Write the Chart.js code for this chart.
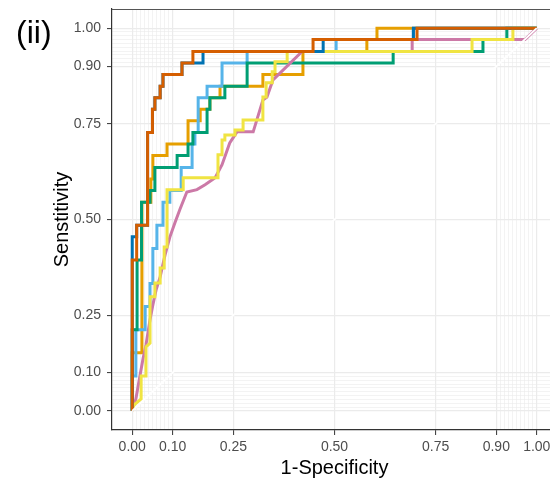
<!DOCTYPE html>
<html>
<head>
<meta charset="utf-8">
<title>ROC (ii)</title>
<script src="https://cdn.jsdelivr.net/npm/chart.js@4.4.0/dist/chart.umd.min.js"></script>
<style>
    html, body { margin: 0; padding: 0; background: #ffffff; overflow: hidden; }
    #wrap { position: relative; width: 580px; height: 483px; }
</style>
</head>
<body>
<div id="wrap"><canvas id="roc"></canvas></div>
<script>
'use strict'

/* axis breaks */
var majorTicks = [0, 0.1, 0.25, 0.5, 0.75, 0.9, 1];
var minorTicks = [0.01, 0.02, 0.03, 0.04, 0.05, 0.06, 0.07, 0.08, 0.09,
    0.91, 0.92, 0.93, 0.94, 0.95, 0.96, 0.97, 0.98, 0.99];

var panelLabel = '(ii)';
var xTitle = '1-Specificity';
var yTitle = 'Senstitivity';

/* reference diagonal */
var diagFpr = [0, 1];
var diagTpr = [0, 1];

/* ROC curves (1-specificity, sensitivity) */
var vermillionFpr = [0, 0, 0.011, 0.011, 0.038, 0.038, 0.050, 0.050, 0.056, 0.056, 0.069, 0.069, 0.076, 0.076, 0.123, 0.123, 0.150, 0.150, 0.447, 0.447, 0.704, 0.704, 1];
var vermillionTpr = [0, 0.394, 0.394, 0.485, 0.485, 0.727, 0.727, 0.788, 0.788, 0.818, 0.818, 0.848, 0.848, 0.879, 0.879, 0.909, 0.909, 0.939, 0.939, 0.970, 0.970, 1, 1];

var blueFpr = [0, 0, 0.011, 0.011, 0.038, 0.038, 0.050, 0.050, 0.056, 0.056, 0.069, 0.069, 0.076, 0.076, 0.123, 0.123, 0.175, 0.175, 0.472, 0.472, 0.695, 0.695, 1];
var blueTpr = [0, 0.455, 0.455, 0.485, 0.485, 0.727, 0.727, 0.788, 0.788, 0.818, 0.818, 0.848, 0.848, 0.879, 0.879, 0.909, 0.909, 0.939, 0.939, 0.970, 0.970, 1, 1];

var yellowFpr = [0, 0.004, 0.022, 0.022, 0.034, 0.034, 0.044, 0.044, 0.056, 0.056, 0.069, 0.069, 0.079, 0.079, 0.086, 0.086, 0.126, 0.126, 0.212, 0.212, 0.222, 0.222, 0.229, 0.229, 0.254, 0.254, 0.274, 0.274, 0.323, 0.323, 0.331, 0.331, 0.346, 0.346, 0.353, 0.353, 0.383, 0.383, 0.840, 0.840, 0.941, 0.941, 1];
var yellowTpr = [0, 0.015, 0.031, 0.091, 0.091, 0.167, 0.177, 0.298, 0.298, 0.334, 0.334, 0.373, 0.373, 0.428, 0.428, 0.578, 0.578, 0.609, 0.609, 0.669, 0.669, 0.708, 0.708, 0.721, 0.721, 0.734, 0.734, 0.760, 0.760, 0.820, 0.820, 0.857, 0.857, 0.886, 0.886, 0.912, 0.912, 0.939, 0.939, 0.970, 0.970, 1, 1];

var pinkFpr = [0, 0.009, 0.019, 0.027, 0.034, 0.044, 0.051, 0.059, 0.069, 0.081, 0.093, 0.106, 0.118, 0.135, 0.160, 0.180, 0.205, 0.222, 0.241, 0.259, 0.299, 0.323, 0.333, 0.348, 0.420, 0.692, 0.692, 0.971, 1];
var pinkTpr = [0, 0.031, 0.091, 0.138, 0.172, 0.238, 0.277, 0.316, 0.350, 0.407, 0.454, 0.493, 0.527, 0.572, 0.578, 0.591, 0.609, 0.643, 0.700, 0.729, 0.729, 0.812, 0.820, 0.865, 0.939, 0.939, 0.970, 0.970, 1];

var greenFpr = [0, 0, 0.012, 0.012, 0.023, 0.023, 0.044, 0.044, 0.056, 0.056, 0.111, 0.111, 0.138, 0.138, 0.150, 0.150, 0.185, 0.185, 0.192, 0.192, 0.229, 0.229, 0.284, 0.284, 0.645, 0.645, 0.867, 0.867, 0.926, 0.926, 1];
var greenTpr = [0, 0.212, 0.212, 0.394, 0.394, 0.545, 0.545, 0.576, 0.576, 0.636, 0.636, 0.667, 0.667, 0.697, 0.697, 0.727, 0.727, 0.788, 0.788, 0.818, 0.818, 0.848, 0.848, 0.909, 0.909, 0.939, 0.939, 0.970, 0.970, 1, 1];

var skyFpr = [0, 0, 0.009, 0.009, 0.032, 0.032, 0.044, 0.044, 0.051, 0.051, 0.061, 0.061, 0.076, 0.076, 0.093, 0.093, 0.121, 0.121, 0.148, 0.148, 0.155, 0.155, 0.163, 0.163, 0.185, 0.185, 0.222, 0.222, 0.284, 0.284, 0.504, 0.504, 0.695, 0.695, 1];
var skyTpr = [0, 0.091, 0.091, 0.212, 0.212, 0.273, 0.273, 0.333, 0.333, 0.424, 0.424, 0.485, 0.485, 0.545, 0.545, 0.576, 0.576, 0.636, 0.636, 0.697, 0.697, 0.727, 0.727, 0.818, 0.818, 0.848, 0.848, 0.909, 0.909, 0.939, 0.939, 0.970, 0.970, 1, 1];

var orangeFpr = [0, 0, 0.024, 0.024, 0.046, 0.046, 0.051, 0.051, 0.086, 0.086, 0.138, 0.138, 0.168, 0.168, 0.192, 0.192, 0.217, 0.217, 0.323, 0.323, 0.422, 0.422, 0.580, 0.580, 0.605, 0.605, 1];
var orangeTpr = [0, 0.152, 0.152, 0.545, 0.545, 0.606, 0.606, 0.667, 0.667, 0.697, 0.697, 0.758, 0.758, 0.788, 0.788, 0.818, 0.818, 0.848, 0.848, 0.879, 0.879, 0.939, 0.939, 0.970, 0.970, 1, 1];

var fontFamily = '"Liberation Sans", Arial, Helvetica, sans-serif';

function isMajor(v) {
    return majorTicks.indexOf(v) >= 0;
}

function curve(fpr, tpr, colour, width) {
    return {
        data: fpr.map(function (x, i) { return { x: x, y: tpr[i] }; }),
        borderColor: colour,
        borderWidth: width,
        pointRadius: 0,
        tension: 0,
        fill: false
    };
}

function setBreaks(scale) {
    scale.ticks = majorTicks.concat(minorTicks)
        .sort(function (a, b) { return a - b; })
        .map(function (v) { return { value: v }; });
}

function axis(titleText, titlePadding, tickPadding, fitFn) {
    return {
        type: 'linear',
        min: -0.05,
        max: 1.05,
        afterBuildTicks: setBreaks,
        afterFit: function (s) {
            fitFn(s);
            s.paddingTop = 0;
            s.paddingBottom = 0;
            s.paddingLeft = 0;
            s.paddingRight = 0;
        },
        border: { display: true, color: '#333333', width: 1.2 },
        grid: {
            color: '#EBEBEB',
            lineWidth: function (c) { return isMajor(c.tick.value) ? 1.2 : 0.6; },
            tickColor: function (c) { return isMajor(c.tick.value) ? '#333333' : 'rgba(0,0,0,0)'; },
            tickWidth: 1,
            tickLength: 5
        },
        ticks: {
            autoSkip: false,
            maxRotation: 0,
            padding: tickPadding,
            color: '#4D4D4D',
            font: { family: fontFamily, size: 14 },
            callback: function (value) { return isMajor(value) ? value.toFixed(2) : ''; }
        },
        title: {
            display: true,
            text: titleText,
            color: '#000000',
            font: { family: fontFamily, size: 20 },
            padding: titlePadding
        }
    };
}

/* top edge of the panel and the panel tag */
var panelExtras = {
    id: 'panelExtras',
    afterDraw: function (chart) {
        var ctx = chart.ctx;
        var area = chart.chartArea;
        ctx.save();
        ctx.strokeStyle = '#555555';
        ctx.lineWidth = 1;
        ctx.beginPath();
        ctx.moveTo(area.left, area.top + 0.5);
        ctx.lineTo(area.right, area.top + 0.5);
        ctx.stroke();
        ctx.fillStyle = '#000000';
        ctx.font = '32px ' + fontFamily;
        ctx.textBaseline = 'alphabetic';
        ctx.fillText(panelLabel, 16, 43);
        ctx.restore();
    }
};

var roc = document.getElementById('roc').getContext('2d');
var rocChart = new Chart(roc, {
    type: 'line',
    data: {
        datasets: [
            curve(diagFpr, diagTpr, '#FFFFFF', 2),
            curve(vermillionFpr, vermillionTpr, '#D55E00', 3),
            curve(blueFpr, blueTpr, '#0072B2', 3),
            curve(yellowFpr, yellowTpr, '#F0E442', 3),
            curve(pinkFpr, pinkTpr, '#CC79A7', 3),
            curve(greenFpr, greenTpr, '#009E73', 3),
            curve(skyFpr, skyTpr, '#56B4E9', 3),
            curve(orangeFpr, orangeTpr, '#E69F00', 3)
        ]
    },
    options: {
        responsive: true,
        maintainAspectRatio: false,
        animation: false,
        devicePixelRatio: 1,
        layout: {
            padding: { top: 9, right: 23, bottom: 0, left: 0 }
        },
        plugins: {
            legend: { display: false },
            tooltip: { enabled: false }
        },
        scales: {
            x: axis(xTitle, { top: 0, bottom: 3 }, 4, function (s) { s.height = 53; }),
            y: axis(yTitle, { top: 50, bottom: 0 }, 6, function (s) { s.width = 112; })
        }
    },
    plugins: [panelExtras]
});
</script>
</body>
</html>
